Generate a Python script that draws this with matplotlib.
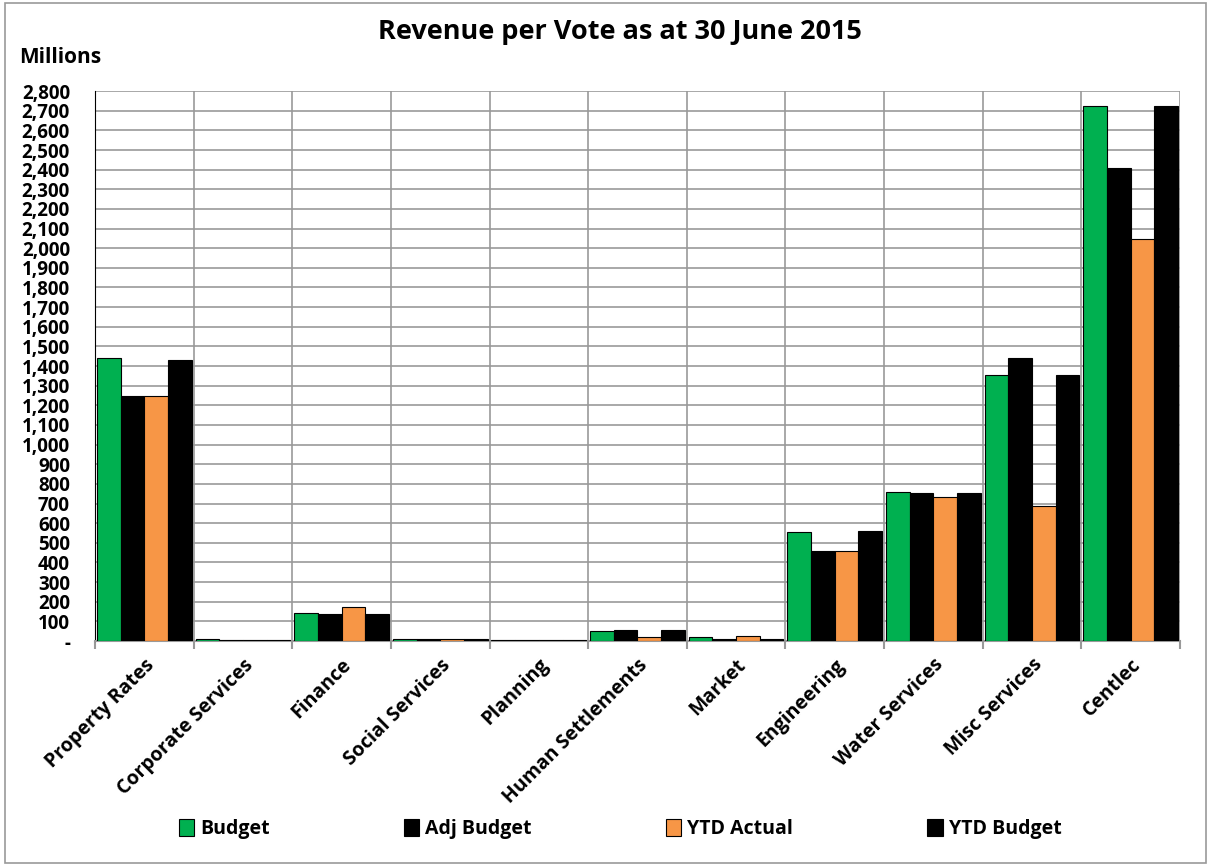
import numpy as np
import matplotlib.pyplot as plt
from matplotlib.patches import Rectangle

categories = ["Property Rates", "Corporate Services", "Finance", "Social Services",
              "Planning", "Human Settlements", "Market", "Engineering",
              "Water Services", "Misc Services", "Centlec"]
budget = [1441, 12, 144, 12, 3, 52, 22, 556, 760, 1354, 2724]
adj_budget = [1247, 4, 137, 8, 3, 56, 12, 460, 754, 1441, 2408]
ytd_actual = [1247, 3, 175, 10, 3, 19, 24, 460, 735, 686, 2047]
ytd_budget = [1431, 4, 137, 8, 3, 56, 12, 560, 754, 1354, 2724]
yticks = list(range(0, 2801, 100))

plt.rcParams['font.family'] = ['Open Sans', 'DejaVu Sans']
plt.rcParams['font.weight'] = 'bold'

fig = plt.figure(figsize=(12.11, 8.66), dpi=100)
ax = fig.add_axes([0.0784, 0.2598, 0.896, 0.635])

x = np.arange(len(categories))
w = 0.24
series = [(budget, '#00B050', 'Budget'), (adj_budget, 'black', 'Adj Budget'),
          (ytd_actual, '#F79646', 'YTD Actual'), (ytd_budget, 'black', 'YTD Budget')]
for i, (vals, col, lab) in enumerate(series):
    ax.bar(x + (i - 1.5) * w, vals, w, color=col, edgecolor='black', linewidth=0.8,
           label=lab, zorder=3)

ax.set_xlim(-0.5, len(categories) - 0.5)
ax.set_ylim(0, 2800)
ax.set_yticks(yticks)
ax.set_yticklabels(['-'] + [f'{v:,}' for v in yticks[1:]], fontsize=13.5, fontweight='bold')
ax.yaxis.grid(True, color='#999999', linewidth=1.2, zorder=0)
ax.tick_params(axis='y', length=0, pad=18)

ax.set_xticks(x)
ax.set_xticklabels(categories, rotation=45, ha='right', rotation_mode='anchor',
                   fontsize=14, fontweight='bold')
ax.tick_params(axis='x', length=0, pad=10)
ax.set_xticks(np.arange(-0.5, len(categories)), minor=True)
ax.tick_params(axis='x', which='minor', length=6, color='#999999', width=1.5)
ax.xaxis.grid(True, which='minor', color='#999999', linewidth=1.2, zorder=0)

for s in ['top', 'right']:
    ax.spines[s].set_visible(False)
ax.spines['bottom'].set_color('#999999')
ax.spines['bottom'].set_linewidth(1.5)
ax.spines['left'].set_color('black')

fig.text(0.512, 0.963, 'Revenue per Vote as at 30 June 2015', ha='center', va='center',
         fontsize=19.5, fontweight='bold')
fig.text(0.016, 0.934, 'Millions', ha='left', va='center', fontsize=15, fontweight='bold')

fig.legend(loc='center', bbox_to_anchor=(0.512, 0.043), ncol=4, frameon=False,
           columnspacing=6.9, handlelength=0.8, handleheight=1.0,
           handletextpad=0.3, prop={'weight': 'bold', 'size': 14})

fig.add_artist(Rectangle((0.004, 0.004), 0.992, 0.992, transform=fig.transFigure,
                         fill=False, edgecolor='#999999', linewidth=1.2))

fig.savefig('out.png', dpi=100)
